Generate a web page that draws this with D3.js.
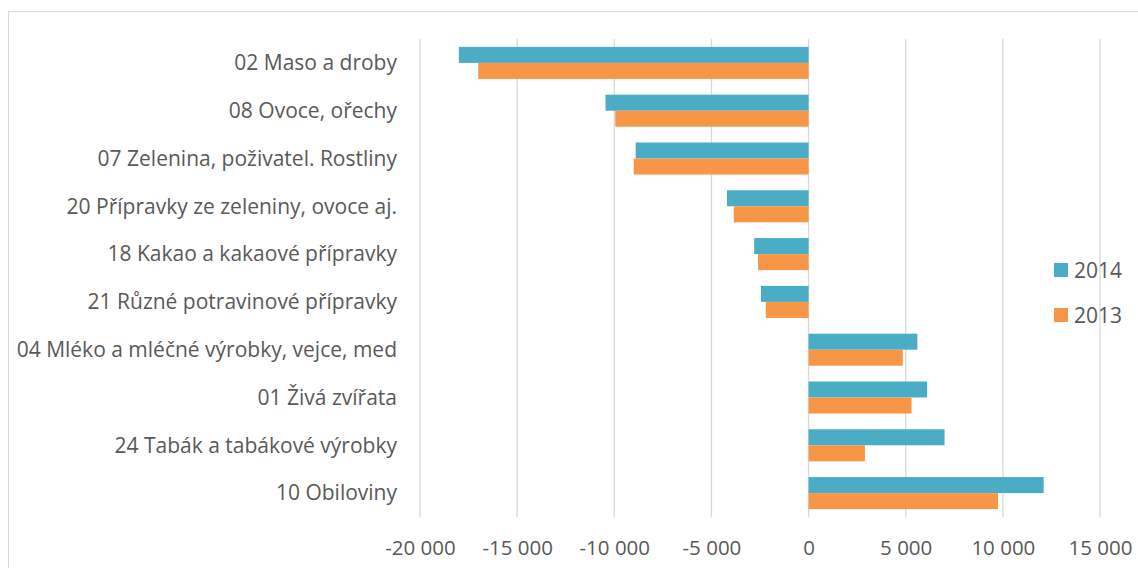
<!DOCTYPE html>
<html>
<head>
<meta charset="utf-8">
<script src="https://cdn.jsdelivr.net/npm/d3@7"></script>
<style>
  html, body { margin: 0; padding: 0; background: #fff; }
  svg { display: block; }
  text { font-family: "Open Sans", Lato, sans-serif; fill: #595959; }
</style>
</head>
<body>
<svg id="chart" width="1138" height="568"></svg>
<script>
const categories = [
  "02 Maso a droby",
  "08 Ovoce, ořechy",
  "07 Zelenina, poživatel. Rostliny",
  "20 Přípravky ze zeleniny, ovoce aj.",
  "18 Kakao a kakaové přípravky",
  "21 Různé potravinové přípravky",
  "04 Mléko a mléčné výrobky, vejce, med",
  "01 Živá zvířata",
  "24 Tabák a tabákové výrobky",
  "10 Obiloviny"
];
const values2014 = [-18000, -10450, -8900, -4200, -2800, -2450, 5600, 6100, 7000, 12100];
const values2013 = [-17000, -9950, -9000, -3850, -2600, -2200, 4850, 5300, 2900, 9750];
const seriesNames = ["2014", "2013"];
const tickValues = [-20000, -15000, -10000, -5000, 0, 5000, 10000, 15000];

const colors = { "2014": "#4BACC6", "2013": "#F79646" };
const series = [
  { name: "2014", values: values2014 },
  { name: "2013", values: values2013 }
];

const svg = d3.select("#chart");
const W = 1138, H = 568;
const FONT = 21;
const TICK_FONT = 20.5;

// outer chart border
svg.append("rect")
  .attr("x", 8.5).attr("y", 11.5)
  .attr("width", W + 10).attr("height", H + 10)
  .attr("fill", "none").attr("stroke", "#d9d9d9").attr("stroke-width", 1);

const plot = { left: 420, right: 1100, top: 39, bottom: 517 };

const x = d3.scaleLinear().domain([-20000, 15000]).range([plot.left, plot.right]);
const y = d3.scaleBand().domain(categories).range([plot.top, plot.bottom]).paddingInner(0.33).paddingOuter(0.165);
const ySub = d3.scaleBand().domain(seriesNames).range([0, y.bandwidth()]);

// gridlines
svg.append("g")
  .selectAll("line")
  .data(tickValues)
  .join("line")
  .attr("x1", d => x(d)).attr("x2", d => x(d))
  .attr("y1", plot.top).attr("y2", plot.bottom)
  .attr("stroke", "#d9d9d9").attr("stroke-width", 1.3);

// bars
const groups = svg.append("g")
  .selectAll("g")
  .data(categories)
  .join("g")
  .attr("transform", d => `translate(0,${y(d)})`);

series.forEach(s => {
  groups.append("rect")
    .attr("x", (d, i) => Math.min(x(0), x(s.values[i])))
    .attr("y", ySub(s.name))
    .attr("width", (d, i) => Math.abs(x(s.values[i]) - x(0)))
    .attr("height", ySub.bandwidth())
    .attr("fill", colors[s.name]);
});

// category labels
const fmt = v => d3.format(",")(v).replace(/,/g, "\u00a0").replace("\u2212", "-");
svg.append("g")
  .selectAll("text")
  .data(categories)
  .join("text")
  .attr("x", 397)
  .attr("y", d => y(d) + y.bandwidth() / 2)
  .attr("dy", "0.35em")
  .attr("text-anchor", "end")
  .attr("font-size", FONT)
  .text(d => d);

// x axis tick labels
const xAxis = d3.axisBottom(x).tickValues(tickValues).tickSize(0).tickFormat(fmt);
const gx = svg.append("g").attr("transform", `translate(0,${plot.bottom})`).call(xAxis);
gx.select(".domain").remove();
gx.selectAll("text")
  .attr("y", 31)
  .attr("dy", "0.35em")
  .attr("font-size", TICK_FONT)
  .attr("fill", "#595959")
  .style("font-family", "'Open Sans', Lato, sans-serif");

// legend
const legend = svg.append("g")
  .selectAll("g")
  .data(seriesNames)
  .join("g")
  .attr("transform", (d, i) => `translate(1054,${263 + i * 45})`);
legend.append("rect").attr("width", 14).attr("height", 14).attr("fill", d => colors[d]);
legend.append("text").attr("x", 20).attr("y", 7).attr("dy", "0.36em")
  .attr("font-size", FONT).text(d => d);
</script>
</body>
</html>
